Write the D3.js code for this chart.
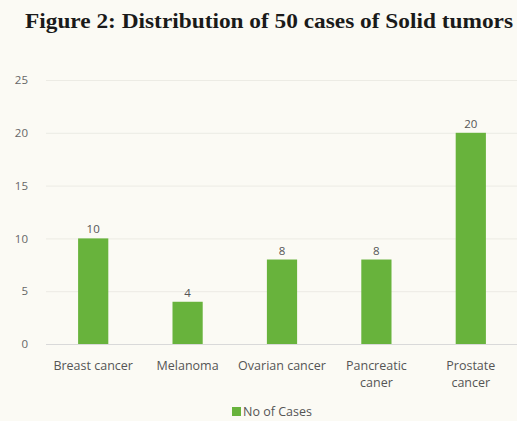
<!DOCTYPE html>
<html>
<head>
<meta charset="utf-8">
<script src="https://cdn.jsdelivr.net/npm/d3@7"></script>
<style>
body { margin: 0; background: #fbfaf4; }
</style>
</head>
<body>
<script>
var width = 517;
var height = 421;

// data
const categories = ["Breast cancer", "Melanoma", "Ovarian cancer", "Pancreatic caner", "Prostate cancer"];
const cases = [10, 4, 8, 8, 20];
const yTicks = [0, 5, 10, 15, 20, 25];
const title = "Figure 2: Distribution of 50 cases of Solid tumors";
const seriesName = "No of Cases";

// label line breaks like excel wraps them
const labelLines = {
    "Breast cancer": ["Breast cancer"],
    "Melanoma": ["Melanoma"],
    "Ovarian cancer": ["Ovarian cancer"],
    "Pancreatic caner": ["Pancreatic", "caner"],
    "Prostate cancer": ["Prostate", "cancer"]
};

var font = "'Open Sans', Calibri, sans-serif";

var svg = d3.select("body").append("svg")
    .attr("width", width)
    .attr("height", height);

svg.append("rect")
    .attr("width", width)
    .attr("height", height)
    .attr("fill", "#fbfaf4");

var x = d3.scaleBand()
    .domain(categories)
    .range([46, 518])
    .paddingInner(0.68)
    .paddingOuter(0.34);

var y = d3.scaleLinear()
    .domain([0, 25])
    .range([344, 80]);

svg.append("text")
    .attr("x", 25)
    .attr("y", 28)
    .attr("textLength", 488)
    .attr("lengthAdjust", "spacingAndGlyphs")
    .style("font-family", "'Liberation Serif', 'Times New Roman', serif")
    .style("font-weight", "bold")
    .style("font-size", "21.5px")
    .attr("fill", "#1a1a1a")
    .text(title);

// gridlines
svg.append("g")
    .selectAll("line")
    .data(yTicks)
    .enter()
    .append("line")
    .attr("x1", 46)
    .attr("x2", 517)
    .attr("y1", d => y(d) + 0.5)
    .attr("y2", d => y(d) + 0.5)
    .attr("stroke", d => d === 0 ? "#d9d9d9" : "#ecebe4")
    .attr("stroke-width", 1);

// y axis labels
var yAxis = d3.axisLeft(y).tickValues(yTicks).tickSize(0).tickPadding(0);
var gy = svg.append("g")
    .attr("transform", "translate(28,0)")
    .call(yAxis);
gy.select(".domain").remove();
gy.selectAll("text")
    .style("font-family", font)
    .style("font-size", "11.5px")
    .attr("fill", "#666");

// bars
svg.append("g")
    .selectAll("rect")
    .data(categories)
    .enter()
    .append("rect")
    .attr("x", d => x(d))
    .attr("y", (d, i) => y(cases[i]))
    .attr("width", x.bandwidth())
    .attr("height", (d, i) => y(0) - y(cases[i]))
    .attr("fill", "#68b33c");

// value labels
svg.append("g")
    .selectAll("text")
    .data(categories)
    .enter()
    .append("text")
    .attr("x", d => x(d) + x.bandwidth() / 2)
    .attr("y", (d, i) => y(cases[i]) - 5)
    .attr("text-anchor", "middle")
    .style("font-family", font)
    .style("font-size", "11.5px")
    .attr("fill", "#555")
    .text((d, i) => cases[i]);

// category labels
var xl = svg.append("g")
    .selectAll("text")
    .data(categories)
    .enter()
    .append("text")
    .attr("x", d => x(d) + x.bandwidth() / 2)
    .attr("y", 370)
    .attr("text-anchor", "middle")
    .style("font-family", font)
    .style("font-size", "12.5px")
    .attr("fill", "#555");
xl.selectAll("tspan")
    .data(d => labelLines[d].map(t => ({ t: t, c: d })))
    .enter()
    .append("tspan")
    .attr("x", d => x(d.c) + x.bandwidth() / 2)
    .attr("dy", (d, i) => i === 0 ? 0 : 17)
    .text(d => d.t);

// legend
var lg = svg.append("g").attr("transform", "translate(232,407)");
lg.append("rect")
    .attr("width", 9)
    .attr("height", 9)
    .attr("fill", "#68b33c");
lg.append("text")
    .attr("x", 11)
    .attr("y", 9)
    .style("font-family", font)
    .style("font-size", "12.5px")
    .attr("fill", "#555")
    .text(seriesName);
</script>
</body>
</html>
